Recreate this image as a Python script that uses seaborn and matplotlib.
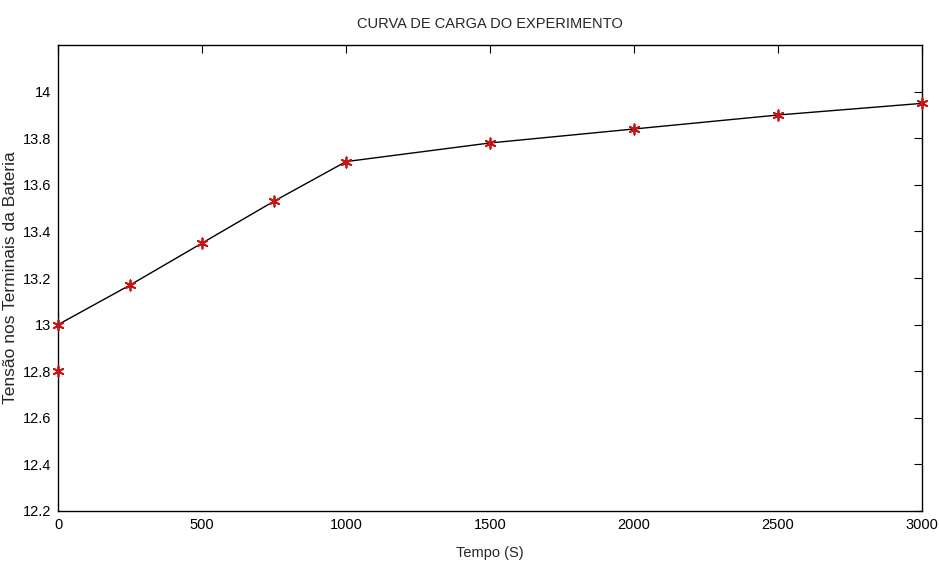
import pandas as pd
import matplotlib
matplotlib.use("Agg")
import matplotlib.pyplot as plt
import seaborn as sns

# dados
tempo = [0, 0, 250, 500, 750, 1000, 1500, 2000, 2500, 3000]
tensao = [12.8, 13.0, 13.17, 13.35, 13.53, 13.70, 13.78, 13.84, 13.90, 13.95]
x_ticks = [0, 500, 1000, 1500, 2000, 2500, 3000]
y_ticks = [12.2, 12.4, 12.6, 12.8, 13.0, 13.2, 13.4, 13.6, 13.8, 14.0]
y_labels = ["12.2", "12.4", "12.6", "12.8", "13", "13.2", "13.4", "13.6", "13.8", "14"]

df = pd.DataFrame({"tempo": tempo, "tensao": tensao})

sns.set_style("white")
plt.rcParams["font.family"] = ["Liberation Sans Narrow", "Liberation Sans", "DejaVu Sans"]

fig = plt.figure(figsize=(9.39, 5.64), dpi=100)
ax = fig.add_axes([0.0618, 0.094, 0.9202, 0.826])

sns.lineplot(data=df, x="tempo", y="tensao", sort=False, estimator=None,
             color="black", linewidth=1.0, ax=ax)
# asterisco vermelho estilo MATLAB
sns.scatterplot(data=df, x="tempo", y="tensao", marker=(6, 2, 0), color="#c81414",
                s=55, linewidth=1.3, zorder=5, ax=ax, clip_on=False)

ax.set_xlim(0, 3000)
ax.set_ylim(12.2, 14.2)
ax.set_xticks(x_ticks)
ax.set_yticks(y_ticks)
ax.set_yticklabels(y_labels)
ax.tick_params(direction="in", top=True, right=True, length=6, width=0.8,
               labelsize=10.5, colors="black", pad=5)
for s in ax.spines.values():
    s.set_color("black")
    s.set_linewidth(1.0)

ax.set_title("CURVA DE CARGA DO EXPERIMENTO", fontsize=10.5, pad=12)
ax.set_xlabel("Tempo (S)", fontsize=10.5)
ax.xaxis.set_label_coords(0.5, -0.075)
ax.set_ylabel("Tensão nos Terminais da Bateria", fontsize=12.5)
ax.yaxis.set_label_coords(-0.046, 0.5)

fig.savefig("out.png", dpi=100, facecolor="white")
